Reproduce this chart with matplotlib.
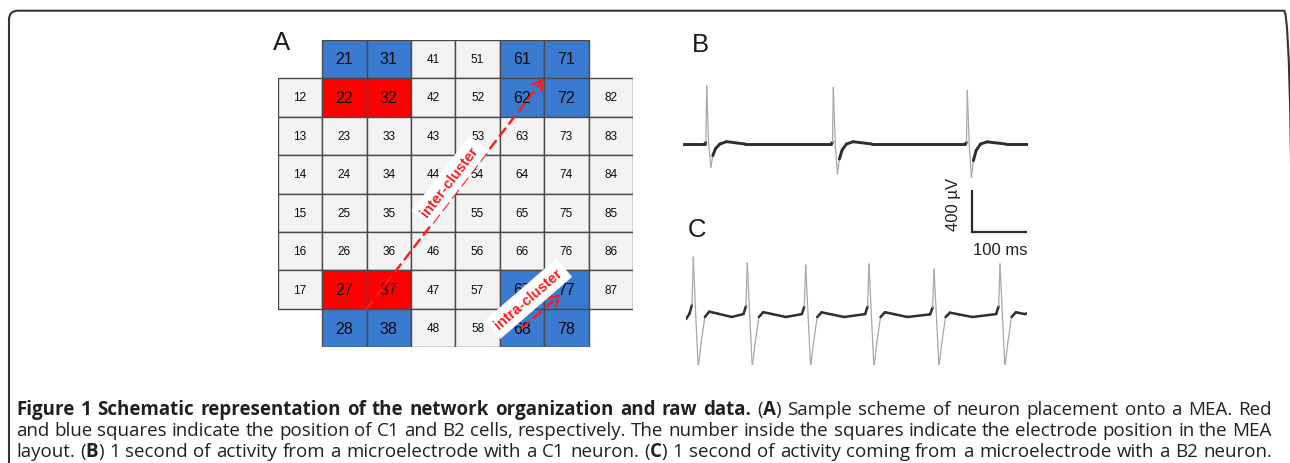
import matplotlib
matplotlib.use('Agg')
import matplotlib.pyplot as plt
import numpy as np
from matplotlib.patches import Rectangle, FancyBboxPatch, FancyArrowPatch
from matplotlib.collections import LineCollection
from matplotlib.transforms import IdentityTransform

W, H, DPI = 1290, 464, 100

# ---------------- data ----------------
grid_cols = [1, 2, 3, 4, 5, 6, 7, 8]
grid_rows = [1, 2, 3, 4, 5, 6, 7, 8]
absent_electrodes = [11, 81, 18, 88]
c1_electrodes = [22, 32, 27, 37]                                   # red squares
b2_electrodes = [21, 31, 61, 71, 62, 72, 28, 38, 67, 77, 68, 78]   # blue squares
inter_from_group = [27, 37, 28, 38]
inter_to_group = [61, 71, 62, 72]
intra_from = 68
intra_to = 77

# panel B (C1 neuron), time in ms, voltage in uV
b_duration_ms = 627
b_spike_ms = [43.1, 273.3, 516.9]
b_peak_uv = [555, 540, 508]
b_trough_uv = [-222, -286, -317]
b_shape_ms = [-4.0, -1.5, 0.0, 3.5, 7.5, 11.0, 16.0, 24.0, 36.0, 70.0]
b_shape_rel = [0.0, 0.03, 1.0, 0.0, -1.0, -0.5, -0.2, 0.0, 0.04, 0.0]

# panel C (B2 neuron)
c_duration_ms = 620
c_spike_ms = [13.3, 111.5, 217.6, 332.7, 450.9, 570.9]
c_peak_uv = [571, 514, 495, 505, 457, 505]
c_trough_uv = [-480, -480, -480, -480, -480, -480]
c_shape_ms = [-7.0, -2.5, 0.0, 4.5, 9.0, 14.5, 21.0, 29.0, 45.0, 70.0]
c_shape_rel = [0.055, 0.2, 1.0, 0.0, -1.0, -0.49, 0.0, 0.09, 0.055, 0.0]
c_start_uv, c_end_uv = -20, 35

scale_ms = 100
scale_uv = 400

caption_lines = [
    [("Figure 1 Schematic representation of the network organization and raw data.", True),
     (" (", False), ("A", True), (") Sample scheme of neuron placement onto a MEA. Red", False)],
    [("and blue squares indicate the position of C1 and B2 cells, respectively. The number inside the squares indicate the electrode position in the MEA", False)],
    [("layout. (", False), ("B", True), (") 1 second of activity from a microelectrode with a C1 neuron. (", False),
     ("C", True), (") 1 second of activity coming from a microelectrode with a B2 neuron.", False)],
]

# ---------------- figure ----------------
fig = plt.figure(figsize=(W / DPI, H / DPI), dpi=DPI)
fig.patch.set_facecolor('white')


def frac_box(x0, y0, x1, y1):
    return [x0 / W, 1 - y1 / H, (x1 - x0) / W, (y1 - y0) / H]


# rounded frame
frame = FancyBboxPatch((9, -60), 1284, 452.3 + 60, boxstyle="round,pad=0,rounding_size=9",
                       transform=IdentityTransform(), fc='none', ec='#333333', lw=1.5)
fig.add_artist(frame)

# ---------------- panel A ----------------
axA = fig.add_axes(frac_box(277.7, 40.7, 633.0, 348.3))
axA.set_xlim(0.5, 8.5)
axA.set_ylim(8.5, 0.5)
axA.axis('off')

for c in grid_cols:
    for r in grid_rows:
        e = 10 * c + r
        if e in absent_electrodes:
            continue
        if e in c1_electrodes:
            fc, fs = '#ff0000', 11.5
        elif e in b2_electrodes:
            fc, fs = '#3a7bd0', 11.5
        else:
            fc, fs = '#f3f3f3', 8.5
        axA.add_patch(Rectangle((c - 0.5, r - 0.5), 1, 1, fc=fc, ec='#4a4a4a', lw=1.0, zorder=1))
        axA.text(c, r, str(e), ha='center', va='center', fontsize=fs, family='Liberation Sans',
                 color='#0a0a0a', zorder=2)


def pos(e):
    return np.array([e // 10, e % 10], dtype=float)


def group_center(g):
    return np.mean([pos(e) for e in g], axis=0)


def arrow_with_label(p0, p1, label, frac, offset_px, shrinkB):
    arr = FancyArrowPatch(p0, p1, arrowstyle='->,head_length=7,head_width=4', color='#ff1a1a',
                          lw=1.7, linestyle=(0, (4, 2.6)), shrinkA=0, shrinkB=shrinkB,
                          mutation_scale=1, zorder=3)
    axA.add_patch(arr)
    d0 = axA.transData.transform(p0)
    d1 = axA.transData.transform(p1)
    dv = d1 - d0
    ang = np.degrees(np.arctan2(dv[1], dv[0]))
    u = dv / np.linalg.norm(dv)
    n = np.array([-u[1], u[0]])
    c = d0 + frac * dv + offset_px * n
    cd = axA.transData.inverted().transform(c)
    axA.text(cd[0], cd[1], label, rotation=ang, rotation_mode='anchor', ha='center', va='center',
             fontsize=10.5, fontweight='bold', color='#ff1a1a', family='Liberation Sans', zorder=4,
             bbox=dict(boxstyle='square,pad=0.35', fc='white', ec='none'))


arrow_with_label(group_center(inter_from_group), group_center(inter_to_group), 'inter-cluster',
                 0.524, 12, 0)
arrow_with_label(pos(intra_from), pos(intra_to), 'intra-cluster', 0.41, 18, 5)

# ---------------- traces ----------------
MS_PER_PX = 100 / 55.0
UV_PER_PX = 400 / 42.0


def build_trace(spk, pk, tr, sh_t, sh_r, dur, v0, v1):
    t, v = [0.0], [v0]
    for s, p, q in zip(spk, pk, tr):
        for dt, rel in zip(sh_t, sh_r):
            tt = s + dt
            if 0 < tt < dur:
                t.append(tt)
                v.append(rel * p if rel >= 0 else rel * abs(q))
    t.append(dur)
    v.append(v1)
    return np.array(t), np.array(v)


def draw_trace(ax, t, v, thick):
    pts = np.column_stack([t, v])
    segs = np.stack([pts[:-1], pts[1:]], axis=1)
    slope = np.abs(np.diff(v) / np.diff(t))
    fast = slope > 30
    lws = np.where(fast, 0.9, thick)
    cols = ['#a8a8a8' if f else '#2e2e2e' for f in fast]
    ax.add_collection(LineCollection(segs, linewidths=lws, colors=cols, capstyle='round',
                                     joinstyle='round'))


# panel B axes: x 683..1028 px, baseline at y=145 px
bx0, bx1, by0, by1, bbase = 683, 1028, 70, 185, 145
axB = fig.add_axes(frac_box(bx0, by0, bx1, by1))
axB.set_xlim(0, (bx1 - bx0) * MS_PER_PX)
axB.set_ylim(-(by1 - bbase) * UV_PER_PX, (bbase - by0) * UV_PER_PX)
axB.axis('off')
tb, vb = build_trace(b_spike_ms, b_peak_uv, b_trough_uv, b_shape_ms, b_shape_rel, b_duration_ms, 0, 0)
draw_trace(axB, tb, vb, 2.1)

# panel C axes: x 686..1027 px, baseline at y=318 px
cx0, cx1, cy0, cy1, cbase = 686, 1027, 245, 366, 318
axC = fig.add_axes(frac_box(cx0, cy0, cx1, cy1))
axC.set_xlim(0, (cx1 - cx0) * MS_PER_PX)
axC.set_ylim(-(cy1 - cbase) * UV_PER_PX, (cbase - cy0) * UV_PER_PX)
axC.axis('off')
tc, vc = build_trace(c_spike_ms, c_peak_uv, c_trough_uv, c_shape_ms, c_shape_rel, c_duration_ms,
                     c_start_uv, c_end_uv)
draw_trace(axC, tc, vc, 1.8)

# scale bar (in panel C data units)
sb_x = (971.7 - cx0) * MS_PER_PX
sb_y = (cbase - 233.3) * UV_PER_PX
axC.plot([sb_x, sb_x, sb_x + scale_ms], [sb_y + scale_uv, sb_y, sb_y], color='#2a2a2a', lw=1.6,
         clip_on=False, solid_joinstyle='miter', solid_capstyle='butt')
axC.annotate(f'{scale_ms} ms', xy=(sb_x + scale_ms / 2, sb_y), xytext=(1, -17),
             textcoords='offset pixels', ha='center', va='center', fontsize=12,
             family='Liberation Sans', color='#222222', annotation_clip=False)
axC.annotate(f'{scale_uv} µV', xy=(sb_x, sb_y + scale_uv / 2), xytext=(-18, 8),
             textcoords='offset pixels', ha='center', va='center', rotation=90, fontsize=12,
             family='Liberation Sans', color='#222222', annotation_clip=False)

# panel letters
for letter, x, yb in [('A', 273, 50), ('B', 691.5, 51.5), ('C', 688, 237)]:
    fig.text(x / W, 1 - yb / H, letter, ha='left', va='baseline', fontsize=18.5,
             family='Liberation Sans', color='#1a1a1a')

# ---------------- caption (justified) ----------------
renderer = fig.canvas.get_renderer()
CAP_FAMILY = 'Open Sans'
CAP_X0, CAP_X1 = 16, 1272
CAP_BASELINES = [415, 436, 457]


def words_of(runs):
    words = [[]]
    for text, bold in runs:
        parts = text.split(' ')
        for i, p in enumerate(parts):
            if i > 0:
                words.append([])
            if p:
                words[-1].append((p, bold))
    return [w for w in words if w]


def measure(s, bold, fs):
    t = fig.text(0, 0, s, fontsize=fs, fontweight='bold' if bold else 'normal', family=CAP_FAMILY)
    w = t.get_window_extent(renderer).width
    t.remove()
    return w


def natural_width(words, fs):
    sp = measure('a a', False, fs) - measure('aa', False, fs)
    return sum(measure(s, b, fs) for w in words for s, b in w) + sp * (len(words) - 1)


line_words = [words_of(l) for l in caption_lines]
fs0 = 9.0
nat = np.mean([natural_width(w, fs0) for w in line_words])
cap_fs = fs0 * (CAP_X1 - CAP_X0) / nat

for words, yb in zip(line_words, CAP_BASELINES):
    widths = [[measure(s, b, cap_fs) for s, b in w] for w in words]
    total = sum(sum(w) for w in widths)
    gap = (CAP_X1 - CAP_X0 - total) / (len(words) - 1)
    x = CAP_X0
    for w, ws in zip(words, widths):
        for (s, b), wd in zip(w, ws):
            fig.text(x / W, 1 - yb / H, s, ha='left', va='baseline', fontsize=cap_fs,
                     fontweight='bold' if b else 'normal', family=CAP_FAMILY, color='#231f20')
            x += wd
        x += gap

fig.savefig('out.png', dpi=DPI, facecolor='white')
